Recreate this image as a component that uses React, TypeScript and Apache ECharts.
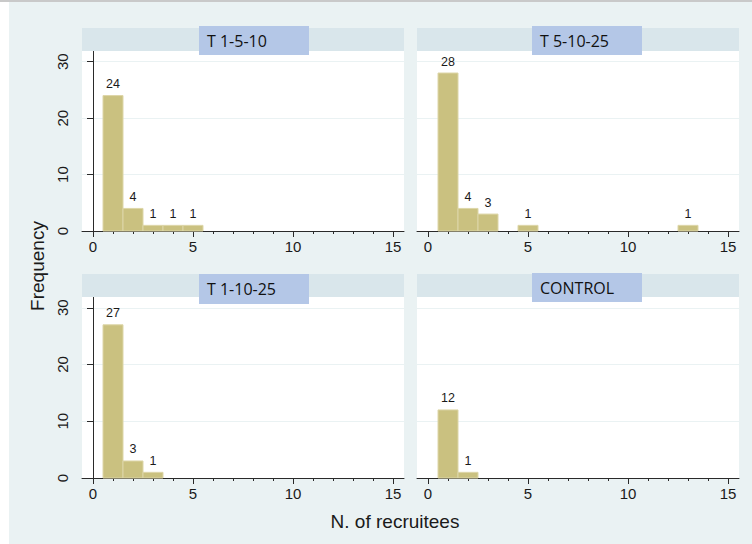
import React, { useEffect, useRef } from "react";
import * as echarts from "echarts";

const panelTitles = ["T 1-5-10", "T 5-10-25", "T 1-10-25", "CONTROL"];
const binsTL = [1, 2, 3, 4, 5];
const countsTL = [24, 4, 1, 1, 1];
const binsTR = [1, 2, 3, 5, 13];
const countsTR = [28, 4, 3, 1, 1];
const binsBL = [1, 2, 3];
const countsBL = [27, 3, 1];
const binsBR = [1, 2];
const countsBR = [12, 1];
const xMajorTicks = [0, 5, 10, 15];
const xMinorTicks = [0, 1, 2, 3, 4, 5, 6, 7, 8, 9, 10, 11, 12, 13, 14, 15];
const yTicks = [0, 10, 20, 30];
const yTitle = "Frequency";
const xTitle = "N. of recruitees";

const FONT = "'Liberation Sans', Arial, sans-serif";

export default function App() {
  const ref = useRef<HTMLDivElement>(null);
  useEffect(() => {
    if (!ref.current) return;
    const chart = echarts.init(ref.current, undefined, { renderer: "svg" });
    const panels = [
      { left: 82, top: 51, height: 180, bins: binsTL, counts: countsTL, yAxis: true, box: [199, 26, 110, 29] },
      { left: 417, top: 51, height: 180, bins: binsTR, counts: countsTR, yAxis: false, box: [532, 26, 110, 29] },
      { left: 82, top: 297, height: 181, bins: binsBL, counts: countsBL, yAxis: true, box: [199, 274, 110, 30] },
      { left: 417, top: 297, height: 181, bins: binsBR, counts: countsBR, yAxis: false, box: [532, 273, 110, 29] },
    ];
    const W = 322;
    const grid: any[] = [];
    const xAxis: any[] = [];
    const yAxis: any[] = [];
    const series: any[] = [];
    const graphics: any[] = [
      { type: "rect", shape: { x: 0, y: 0, width: 9, height: 544 }, style: { fill: "#ffffff" }, z: 10 },
      { type: "rect", shape: { x: 0, y: 0, width: 752, height: 2 }, style: { fill: "#c9c9c9" }, z: 10 },
    ];
    panels.forEach((p, i) => {
      grid.push({
        left: p.left, top: p.top, width: W, height: p.height,
        show: true, backgroundColor: "#ffffff", borderWidth: 0,
      });
      xAxis.push({
        type: "value", gridIndex: i, position: "bottom", min: -0.55, max: 15.55,
        axisLine: { show: true, onZero: false, lineStyle: { color: "#2a2a2a", width: 1 } },
        axisTick: { show: true, customValues: xMajorTicks, length: 6, lineStyle: { color: "#2a2a2a" } },
        axisLabel: { show: true, customValues: xMajorTicks, margin: 8, fontSize: 15, color: "#1a1a1a", fontFamily: FONT },
        splitLine: { show: false },
      });
      xAxis.push({
        type: "value", gridIndex: i, position: "bottom", min: -0.55, max: 15.55,
        axisLine: { show: false, onZero: false },
        axisTick: { show: true, customValues: xMinorTicks, length: 3, lineStyle: { color: "#2a2a2a" } },
        axisLabel: { show: false },
        splitLine: { show: false },
      });
      yAxis.push({
        type: "value", gridIndex: i, min: 0, max: 31.9, interval: 10,
        axisLine: { show: p.yAxis, lineStyle: { color: "#2a2a2a", width: 1 } },
        axisTick: { show: p.yAxis, customValues: yTicks, length: 6, lineStyle: { color: "#2a2a2a" } },
        axisLabel: { show: p.yAxis, customValues: yTicks, rotate: 90, margin: 12, fontSize: 15, color: "#1a1a1a", fontFamily: FONT },
        splitLine: { show: true, lineStyle: { color: "#eaf2f3", width: 1 } },
      });
      series.push({
        type: "custom",
        coordinateSystem: "cartesian2d",
        xAxisIndex: i * 2,
        yAxisIndex: i,
        data: p.bins.map((b, k) => [b, p.counts[k]]),
        renderItem: (params: any, api: any) => {
          const x = api.value(0);
          const y = api.value(1);
          const p0 = api.coord([x - 0.5, 0]);
          const p1 = api.coord([x + 0.5, y]);
          return {
            type: "group",
            children: [
              {
                type: "rect",
                shape: { x: p0[0], y: p1[1], width: p1[0] - p0[0], height: p0[1] - p1[1] },
                style: { fill: "#cac180", stroke: "#ddd6a8", lineWidth: 1 },
              },
              {
                type: "text",
                style: {
                  text: String(y), x: (p0[0] + p1[0]) / 2, y: p1[1] - 5,
                  textAlign: "center", textVerticalAlign: "bottom",
                  fontSize: 12.5, fontFamily: FONT, fill: "#1a1a1a",
                },
              },
            ],
          };
        },
      });
      graphics.push({
        type: "rect", shape: { x: p.left, y: p.top - 23, width: W, height: 23 },
        style: { fill: "#d9e6eb" }, z: 10,
      });
      graphics.push({
        type: "rect", shape: { x: p.box[0], y: p.box[1], width: p.box[2], height: p.box[3] },
        style: { fill: "#b4c7e7" }, z: 11,
      });
      graphics.push({
        type: "text", x: p.box[0] + 8, y: p.box[1] + p.box[3] / 2, z: 12,
        style: {
          text: panelTitles[i], fontSize: 16, fontFamily: "'Open Sans', sans-serif",
          fill: "#111111", textAlign: "left", textVerticalAlign: "middle",
        },
      });
    });
    graphics.push({
      type: "text", x: 37, y: 266, rotation: Math.PI / 2, z: 12,
      style: { text: yTitle, fontSize: 19, fontFamily: FONT, fill: "#1a1a1a", textAlign: "center", textVerticalAlign: "middle" },
    });
    graphics.push({
      type: "text", x: 395, y: 521, z: 12,
      style: { text: xTitle, fontSize: 19, fontFamily: FONT, fill: "#1a1a1a", textAlign: "center", textVerticalAlign: "middle" },
    });
    chart.setOption({
      animation: false,
      backgroundColor: "#eaf2f3",
      grid, xAxis, yAxis, series,
      graphic: { elements: graphics },
    });
    return () => chart.dispose();
  }, []);
  return <div ref={ref} style={{ position: "fixed", left: 0, top: 0, width: 752, height: 544 }} />;
}
